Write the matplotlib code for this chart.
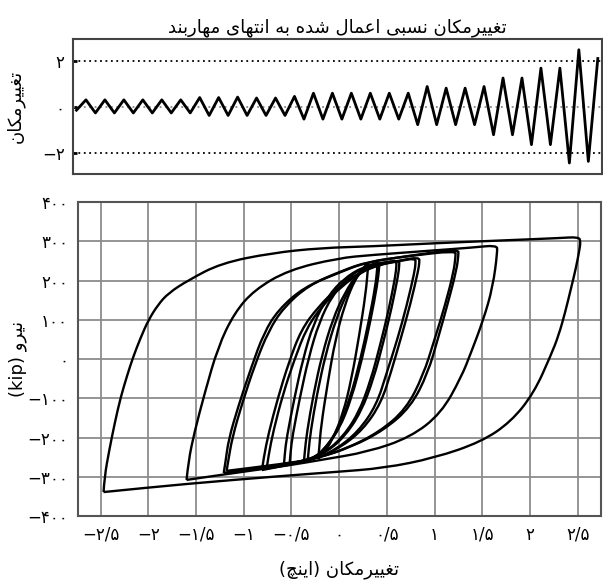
import numpy as np
import matplotlib
matplotlib.use("Agg")
import matplotlib.pyplot as plt
from matplotlib.path import Path
from matplotlib.patches import PathPatch

plt.rcParams['font.family'] = ['DejaVu Sans']

# ---- Persian shaping (matplotlib has no bidi / joining) ----
FORMS = {
    'ا': ('\uFE8D', '\uFE8E', None, None),
    'ب': ('\uFE8F', '\uFE90', '\uFE91', '\uFE92'),
    'ت': ('\uFE95', '\uFE96', '\uFE97', '\uFE98'),
    'چ': ('\uFB7A', '\uFB7B', '\uFB7C', '\uFB7D'),
    'د': ('\uFEA9', '\uFEAA', None, None),
    'ر': ('\uFEAD', '\uFEAE', None, None),
    'س': ('\uFEB1', '\uFEB2', '\uFEB3', '\uFEB4'),
    'ش': ('\uFEB5', '\uFEB6', '\uFEB7', '\uFEB8'),
    'ع': ('\uFEC9', '\uFECA', '\uFECB', '\uFECC'),
    'غ': ('\uFECD', '\uFECE', '\uFECF', '\uFED0'),
    'ک': ('\uFB8E', '\uFB8F', '\uFB90', '\uFB91'),
    'ل': ('\uFEDD', '\uFEDE', '\uFEDF', '\uFEE0'),
    'م': ('\uFEE1', '\uFEE2', '\uFEE3', '\uFEE4'),
    'ن': ('\uFEE5', '\uFEE6', '\uFEE7', '\uFEE8'),
    'و': ('\uFEED', '\uFEEE', None, None),
    'ه': ('\uFEE9', '\uFEEA', '\uFEEB', '\uFEEC'),
    'ی': ('\uFBFC', '\uFBFD', '\uFBFE', '\uFBFF'),
}


def fa(text):
    out = []
    for i, ch in enumerate(text):
        if ch not in FORMS:
            out.append(ch)
            continue
        prev = text[i - 1] if i > 0 else ''
        nxt = text[i + 1] if i + 1 < len(text) else ''
        join_prev = prev in FORMS and FORMS[prev][2] is not None
        join_next = nxt in FORMS and FORMS[ch][2] is not None
        iso, fin, ini, med = FORMS[ch]
        if join_prev and join_next:
            out.append(med)
        elif join_prev:
            out.append(fin)
        elif join_next:
            out.append(ini)
        else:
            out.append(iso)
    return ''.join(out[::-1])


def smooth_loop(ax, xs, ys, **kw):
    # quadratic bezier path using the read points as control points
    pts = np.column_stack([xs, ys]).astype(float)
    verts = [pts[0]]
    codes = [Path.MOVETO]
    for i in range(1, len(pts) - 1):
        verts += [pts[i], (pts[i] + pts[i + 1]) / 2]
        codes += [Path.CURVE3, Path.CURVE3]
    verts.append(pts[-1])
    codes.append(Path.LINETO)
    ax.add_patch(PathPatch(Path(verts, codes), fill=False, **kw))


# ---- top chart: imposed displacement history (peaks, inch) ----
start_value = -0.15
top_peaks = [0.30, 0.30, 0.30, 0.30, 0.30, 0.30,
             0.40, 0.40, 0.42, 0.38, 0.38, 0.45,
             0.59, 0.59, 0.59, 0.59, 0.59, 0.59,
             0.88, 0.81, 0.81, 0.88,
             1.25, 1.25,
             1.68, 1.68,
             2.48, 2.10]
bottom_peaks = [-0.27, -0.27, -0.27, -0.27, -0.27, -0.27,
                -0.38, -0.38, -0.38, -0.38, -0.38,
                -0.54, -0.54, -0.54, -0.54, -0.54, -0.54,
                -0.78, -0.78, -0.78, -0.78,
                -1.22, -1.22,
                -1.65, -1.65,
                -2.45, -2.38]

# ---- bottom chart: hysteresis loops (disp inch, force kip) ----
loop1_disp = [-2.47, -2.46, -2.41, -2.35, -2.29, -2.22, -2.16, -2.08, -2.00, -1.90, -1.79,
              -1.58, -1.24, -0.71, -0.19, 0.34, 1.00, 1.70, 2.30, 2.51,
              2.53, 2.52, 2.48, 2.43, 2.37, 2.30, 2.22, 2.04, 1.80, 1.49, 1.00, 0.47,
              -0.05, -0.60, -1.60, -2.47]
loop1_force = [-339, -300, -232, -160, -97, -40, 5, 55, 99, 138, 168,
               201, 244, 270, 283, 287, 295, 302, 308, 311,
               300, 280, 230, 180, 120, 60, 10, -87, -160, -211, -252, -278,
               -288, -298, -318, -339]

loop2_disp = [-1.60, -1.58, -1.52, -1.41, -1.27, -1.10, -0.89, -0.53, -0.01, 0.34, 0.90, 1.40, 1.65,
              1.66, 1.61, 1.51, 1.38, 1.28, 1.07, 0.75, 0.30, -0.19, -0.50, -1.00, -1.60]
loop2_force = [-308, -260, -189, -87, 31, 117, 176, 227, 257, 265, 275, 284, 290,
               275, 183, 99, 15, -46, -138, -199, -237, -257, -270, -287, -308]

loop3_disp = [-1.21, -1.19, -1.16, -1.06, -0.92, -0.79, -0.64, -0.37, -0.01, 0.26, 0.70, 1.25,
              1.25, 1.23, 1.14, 1.04, 0.93, 0.75, 0.47, 0.13, -0.22, -0.60, -1.21]
loop3_force = [-290, -260, -206, -122, -20, 66, 125, 183, 219, 245, 262, 280,
               265, 227, 143, 56, -36, -122, -181, -224, -252, -270, -290]

loop3b_disp = [-1.18, -1.16, -1.12, -1.02, -0.88, -0.74, -0.58, -0.32, 0.02, 0.30, 0.72, 1.22,
               1.22, 1.20, 1.11, 1.00, 0.88, 0.70, 0.42, 0.08, -0.26, -0.62, -1.18]
loop3b_force = [-285, -255, -200, -115, -12, 72, 132, 188, 224, 248, 262, 276,
                 262, 222, 137, 50, -42, -128, -186, -228, -255, -268, -285]

loop4_disp = [-0.81, -0.79, -0.74, -0.64, -0.53, -0.40, -0.22, -0.01, 0.20, 0.40, 0.62, 0.84,
              0.84, 0.83, 0.75, 0.65, 0.55, 0.44, 0.25, 0.00, -0.25, -0.50, -0.81]
loop4_force = [-283, -250, -189, -97, -10, 74, 133, 183, 219, 240, 250, 260,
               245, 227, 143, 56, -28, -112, -180, -228, -255, -268, -283]

loop4b_disp = [-0.76, -0.74, -0.69, -0.59, -0.47, -0.34, -0.17, 0.03, 0.22, 0.42, 0.62, 0.80,
               0.80, 0.79, 0.71, 0.61, 0.50, 0.39, 0.20, -0.04, -0.28, -0.52, -0.76]
loop4b_force = [-278, -245, -183, -90, -2, 80, 138, 186, 220, 240, 249, 257,
                243, 222, 138, 50, -34, -118, -185, -232, -256, -266, -278]

loop5_disp = [-0.58, -0.57, -0.55, -0.47, -0.38, -0.27, -0.12, 0.05, 0.25, 0.45, 0.63,
              0.63, 0.62, 0.55, 0.46, 0.36, 0.23, 0.05, -0.15, -0.35, -0.58]
loop5_force = [-272, -240, -200, -100, 0, 90, 160, 205, 235, 245, 252,
               240, 215, 130, 40, -50, -135, -200, -240, -258, -272]

loop5b_disp = [-0.52, -0.51, -0.49, -0.41, -0.32, -0.21, -0.07, 0.09, 0.27, 0.45, 0.60,
               0.60, 0.59, 0.52, 0.43, 0.33, 0.20, 0.02, -0.18, -0.36, -0.52]
loop5b_force = [-268, -238, -196, -96, 4, 94, 163, 207, 236, 245, 250,
                238, 212, 126, 36, -55, -140, -204, -243, -258, -268]

loop6_disp = [-0.37, -0.36, -0.34, -0.27, -0.18, -0.07, 0.06, 0.20, 0.32, 0.42,
              0.42, 0.40, 0.33, 0.24, 0.13, 0.00, -0.17, -0.28, -0.37]
loop6_force = [-262, -235, -190, -90, 10, 100, 170, 220, 238, 247,
               235, 190, 100, 0, -100, -180, -235, -252, -262]

loop6b_disp = [-0.33, -0.32, -0.30, -0.23, -0.14, -0.03, 0.09, 0.22, 0.33, 0.40,
               0.40, 0.38, 0.31, 0.22, 0.11, -0.02, -0.18, -0.27, -0.33]
loop6b_force = [-259, -232, -186, -86, 14, 104, 173, 222, 239, 246,
                233, 186, 96, -4, -104, -184, -237, -252, -259]

loop7_disp = [-0.22, -0.21, -0.19, -0.12, -0.04, 0.06, 0.17, 0.26, 0.31,
              0.30, 0.28, 0.21, 0.13, 0.04, -0.07, -0.16, -0.22]
loop7_force = [-255, -230, -170, -60, 50, 140, 205, 235, 245,
               230, 170, 60, -50, -140, -205, -240, -255]

force_ticks = [-400, -300, -200, -100, 0, 100, 200, 300, 400]
force_labels = ['−۴۰۰', '−۳۰۰', '−۲۰۰', '−۱۰۰', '۰', '۱۰۰', '۲۰۰', '۳۰۰', '۴۰۰']
disp_ticks = [-2.5, -2, -1.5, -1, -0.5, 0, 0.5, 1, 1.5, 2, 2.5]
disp_labels = ['−۲/۵', '−۲', '−۱/۵', '−۱', '−۰/۵', '۰', '۰/۵', '۱', '۱/۵', '۲', '۲/۵']
hist_ticks = [-2, 0, 2]
hist_labels = ['−۲', '۰', '۲']

fig = plt.figure(figsize=(6.03, 5.82), dpi=100)

# top: displacement history
ax1 = fig.add_axes([0.121, 0.701, 0.877, 0.232])
history = [start_value]
for i, t in enumerate(top_peaks):
    history.append(t)
    if i < len(bottom_peaks):
        history.append(bottom_peaks[i])
steps = np.arange(len(history))
ax1.axhline(2, color='black', ls=(0, (1, 2)), lw=1.3)
ax1.axhline(-2, color='black', ls=(0, (1, 2)), lw=1.3)
ax1.axhline(0, color='#888888', ls=(0, (1, 2)), lw=1.3)
ax1.plot(steps, history, color='black', lw=2.0)
ax1.set_xlim(-0.37, 55.42)
ax1.set_ylim(-2.93, 2.95)
ax1.set_xticks([])
ax1.set_yticks(hist_ticks)
ax1.set_yticklabels(hist_labels, fontsize=12)
ax1.tick_params(axis='y', direction='in', length=3, width=2, pad=6)
for s in ax1.spines.values():
    s.set_color('#444444')
    s.set_linewidth(1.5)
ax1.set_ylabel(fa('تغییرمکان'), fontsize=13, labelpad=12)
ax1.set_title(fa('تغییرمکان نسبی اعمال شده به انتهای مهاربند'), fontsize=13, pad=5)

# bottom: force vs displacement
ax2 = fig.add_axes([0.129, 0.1134, 0.867, 0.5395])
loops = [(loop1_disp, loop1_force), (loop2_disp, loop2_force),
         (loop3_disp, loop3_force), (loop3b_disp, loop3b_force),
         (loop4_disp, loop4_force), (loop4b_disp, loop4b_force),
         (loop5_disp, loop5_force), (loop5b_disp, loop5b_force),
         (loop6_disp, loop6_force), (loop6b_disp, loop6b_force),
         (loop7_disp, loop7_force)]
for d, f in loops:
    smooth_loop(ax2, d, f, edgecolor='black', lw=1.7, joinstyle='round')
ax2.set_xlim(-2.74, 2.74)
ax2.set_ylim(-400, 400)
ax2.set_xticks(disp_ticks)
ax2.set_xticklabels(disp_labels, fontsize=12)
ax2.set_yticks(force_ticks)
ax2.set_yticklabels(force_labels, fontsize=12)
ax2.tick_params(length=0, pad=7)
ax2.grid(True, color='#8c8c8c', lw=1.3)
ax2.set_axisbelow(True)
for s in ax2.spines.values():
    s.set_color('#555555')
    s.set_linewidth(1.5)
ax2.set_xlabel('(' + fa('اینچ') + ') ' + fa('تغییرمکان'), fontsize=13, labelpad=12)
ax2.set_ylabel('(kip) ' + fa('نیرو'), fontsize=13, labelpad=0)

fig.savefig('out.png', dpi=100)
